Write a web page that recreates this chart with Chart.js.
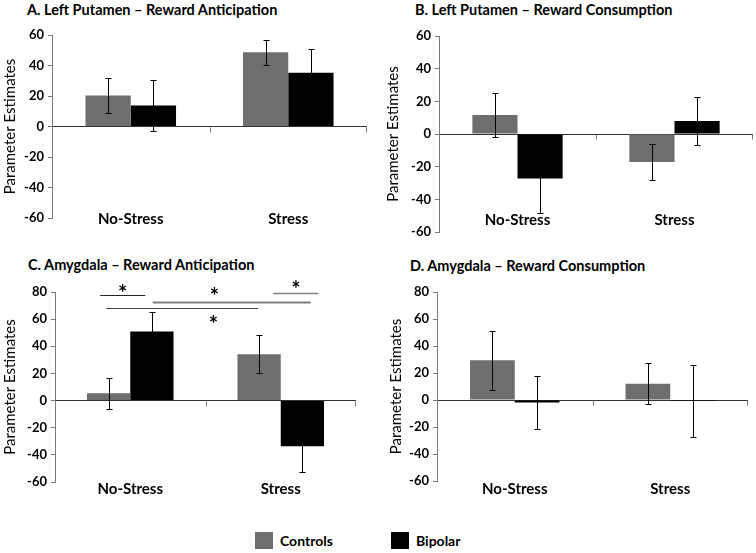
<!DOCTYPE html>
<html>
<head>
<meta charset="utf-8">
<script src="https://cdn.jsdelivr.net/npm/chart.js@4.4.0/dist/chart.umd.min.js"></script>
<style>
  body { margin: 0; background: #fff; font-family: Lato, sans-serif; }
  #wrap { position: relative; width: 756px; height: 553px; overflow: hidden; }
  canvas { position: absolute; }
  .title { position: absolute; font-weight: bold; font-size: 14.5px; color: #000; white-space: nowrap; line-height: 18px; }
  .legend { position: absolute; top: 532px; height: 17px; font-weight: bold; font-size: 14px; line-height: 17px; }
  .legend span { display: inline-block; width: 18px; height: 17px; vertical-align: top; margin-right: 7px; }
</style>
</head>
<body>
<div id="wrap">
  <div class="title" style="left:27px; top:1px;">A. Left Putamen – Reward Anticipation</div>
  <div class="title" style="left:415px; top:1px;">B. Left Putamen – Reward Consumption</div>
  <div class="title" style="left:28px; top:256px;">C. Amygdala – Reward Anticipation</div>
  <div class="title" style="left:410px; top:257px;">D. Amygdala – Reward Consumption</div>
  <canvas id="chartA" width="378" height="240" style="left:0; top:0;"></canvas>
  <canvas id="chartB" width="378" height="240" style="left:378px; top:0;"></canvas>
  <canvas id="chartC" width="378" height="270" style="left:0; top:240px;"></canvas>
  <canvas id="chartD" width="378" height="270" style="left:378px; top:240px;"></canvas>
  <div class="legend" style="left:255px;"><span style="background:#6e6e6e"></span>Controls</div>
  <div class="legend" style="left:391px;"><span style="background:#000"></span>Bipolar</div>
</div>
<script>
// Categories and series
const categories = ['No-Stress', 'Stress'];

const controlsA = [20.4, 48.7];
const controlsErrA = [11.7, 8.2];
const bipolarA = [13.7, 35.2];
const bipolarErrA = [16.8, 15.5];

const controlsB = [11.6, -17.1];
const controlsErrB = [13.7, 11.1];
const bipolarB = [-27.3, 8.0];
const bipolarErrB = [20.8, 14.8];

const controlsC = [5.4, 34.2];
const controlsErrC = [11.5, 13.8];
const bipolarC = [50.9, -33.6];
const bipolarErrC = [14.7, 19.3];

const controlsD = [29.4, 12.1];
const controlsErrD = [21.7, 15.3];
const bipolarD = [-1.8, -0.8];
const bipolarErrD = [19.5, 26.5];

// y ranges for the two rows
const rangeTop = [-60, 60];
const rangeBottom = [-60, 80];

// significance markers for panel C: x in category units, y in data units
const sigLines = [
  { from: -0.2, to: 0.1, y: 77.5, color: '#222', width: 1 },
  { from: 0.15, to: 1.2, y: 72.4, color: '#808080', width: 2 },
  { from: -0.16, to: 0.85, y: 68, color: '#444', width: 1 },
  { from: 0.95, to: 1.25, y: 79.5, color: '#808080', width: 1.5 }
];
const sigStars = [
  { x: -0.05, y: 82.5 },
  { x: 0.56, y: 79.8 },
  { x: 0.553, y: 59.7 },
  { x: 1.1, y: 85.2 }
];

const gray = '#6e6e6e';

// error bars drawn on each bar
const errorBars = {
  id: 'errorBars',
  afterDatasetsDraw(chart) {
    const ctx = chart.ctx;
    const y = chart.scales.y;
    ctx.save();
    ctx.strokeStyle = '#000';
    ctx.lineWidth = 1;
    chart.data.datasets.forEach((ds, i) => {
      chart.getDatasetMeta(i).data.forEach((bar, j) => {
        const v = ds.data[j], e = ds.errors[j];
        const top = Math.round(y.getPixelForValue(v + e)) + 0.5;
        const bot = Math.round(y.getPixelForValue(v - e)) + 0.5;
        const x = Math.round(bar.x) + 0.5;
        ctx.beginPath();
        ctx.moveTo(x, top); ctx.lineTo(x, bot);
        ctx.moveTo(x - 3, top); ctx.lineTo(x + 3, top);
        ctx.moveTo(x - 3, bot); ctx.lineTo(x + 3, bot);
        ctx.stroke();
      });
    });
    ctx.restore();
  }
};

// little tick marks under the zero line between categories, and the category labels
const xAxisDecor = {
  id: 'xAxisDecor',
  afterDraw(chart, args, opts) {
    const ctx = chart.ctx;
    const x = chart.scales.x, y = chart.scales.y;
    const y0 = Math.round(y.getPixelForValue(0)) + 0.5;
    const mid = Math.round((x.getPixelForValue(0) + x.getPixelForValue(1)) / 2) + 0.5;
    ctx.save();
    ctx.strokeStyle = '#777';
    ctx.lineWidth = 1;
    ctx.beginPath();
    [mid, chart.chartArea.right - 0.5].forEach(px => {
      ctx.moveTo(px, y0); ctx.lineTo(px, y0 + 5);
    });
    ctx.stroke();
    ctx.fillStyle = '#000';
    ctx.font = 'bold 15px Lato';
    ctx.textAlign = 'center';
    ctx.textBaseline = 'middle';
    chart.data.labels.forEach((lab, i) => {
      ctx.fillText(lab, x.getPixelForValue(i), chart.chartArea.bottom + opts.offset);
    });
    ctx.restore();
  }
};

const significance = {
  id: 'significance',
  afterDraw(chart, args, opts) {
    if (!opts.lines) return;
    const ctx = chart.ctx;
    const x = chart.scales.x, y = chart.scales.y;
    const xPix = u => x.getPixelForValue(0) + u * (x.getPixelForValue(1) - x.getPixelForValue(0));
    ctx.save();
    opts.lines.forEach(l => {
      const py = Math.round(y.getPixelForValue(l.y)) + 0.5;
      ctx.strokeStyle = l.color;
      ctx.lineWidth = l.width;
      ctx.beginPath();
      ctx.moveTo(xPix(l.from), py);
      ctx.lineTo(xPix(l.to), py);
      ctx.stroke();
    });
    ctx.fillStyle = '#000';
    ctx.font = 'bold 22px Lato';
    ctx.textAlign = 'center';
    ctx.textBaseline = 'middle';
    opts.stars.forEach(s => {
      ctx.fillText('*', xPix(s.x), y.getPixelForValue(s.y) + 5);
    });
    ctx.restore();
  }
};

function makePanel(id, controls, controlsErr, bipolar, bipolarErr, range, box) {
  return new Chart(document.getElementById(id), {
    type: 'bar',
    data: {
      labels: categories,
      datasets: [
        { label: 'Controls', data: controls, errors: controlsErr, backgroundColor: gray },
        { label: 'Bipolar', data: bipolar, errors: bipolarErr, backgroundColor: '#000' }
      ]
    },
    options: {
      responsive: false,
      animation: false,
      categoryPercentage: 0.575,
      barPercentage: 1,
      layout: { padding: { top: box.top, right: box.right, bottom: box.bottom, left: 0 } },
      plugins: {
        legend: { display: false },
        tooltip: { enabled: false },
        xAxisDecor: { offset: box.labelOffset },
        significance: box.sig || {}
      },
      scales: {
        x: { display: false },
        y: {
          min: range[0],
          max: range[1],
          afterFit: s => {
            s.width = box.axis;
            s.paddingTop = 0;
            s.paddingBottom = 0;
          },
          grid: {
            color: c => c.tick && c.tick.value === 0 ? '#333' : 'transparent',
            tickColor: '#777',
            tickLength: 4
          },
          border: { display: true, color: '#777' },
          ticks: { stepSize: 20, color: '#000', padding: 4, font: { family: 'Lato', size: 13, weight: 'bold' } },
          title: {
            display: true,
            text: 'Parameter Estimates',
            color: '#000',
            padding: { top: box.titlePad, bottom: 0 },
            font: { family: 'Lato', size: 15 }
          }
        }
      }
    },
    plugins: [errorBars, xAxisDecor, significance]
  });
}

makePanel('chartA', controlsA, controlsErrA, bipolarA, bipolarErrA, rangeTop,
  { axis: 52, top: 35, right: 11, bottom: 22, labelOffset: 1, titlePad: 1 });
makePanel('chartB', controlsB, controlsErrB, bipolarB, bipolarErrB, rangeTop,
  { axis: 61, top: 36, right: 3, bottom: 8, labelOffset: -12, titlePad: 6 });
makePanel('chartC', controlsC, controlsErrC, bipolarC, bipolarErrC, rangeBottom,
  { axis: 55, top: 52, right: 22, bottom: 28, labelOffset: 7, titlePad: 1,
    sig: { lines: sigLines, stars: sigStars } });
makePanel('chartD', controlsD, controlsErrD, bipolarD, bipolarErrD, rangeBottom,
  { axis: 59, top: 52, right: 8, bottom: 29, labelOffset: 8.5, titlePad: 9 });
</script>
</body>
</html>
